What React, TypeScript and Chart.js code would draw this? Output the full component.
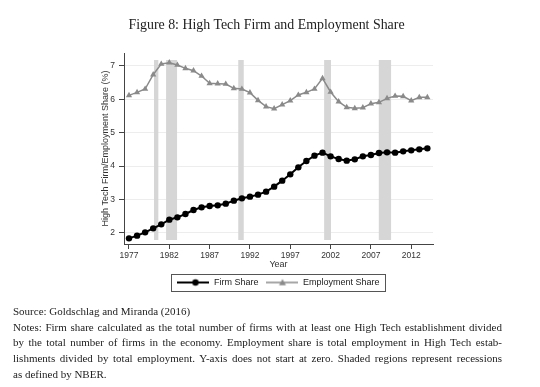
import React, { useEffect, useRef } from "react";
import { Chart, registerables } from "chart.js";

Chart.register(...registerables);

const years = [
  1977, 1978, 1979, 1980, 1981, 1982, 1983, 1984, 1985, 1986, 1987, 1988, 1989,
  1990, 1991, 1992, 1993, 1994, 1995, 1996, 1997, 1998, 1999, 2000, 2001, 2002,
  2003, 2004, 2005, 2006, 2007, 2008, 2009, 2010, 2011, 2012, 2013, 2014,
];
const firmShare = [
  1.83, 1.91, 2.01, 2.13, 2.25, 2.39, 2.46, 2.56, 2.68, 2.76, 2.8, 2.82, 2.87,
  2.96, 3.03, 3.08, 3.14, 3.23, 3.38, 3.56, 3.75, 3.96, 4.15, 4.31, 4.4, 4.29,
  4.21, 4.16, 4.2, 4.29, 4.33, 4.39, 4.41, 4.4, 4.44, 4.47, 4.5, 4.53,
];
const employmentShare = [
  6.12, 6.21, 6.31, 6.74, 7.06, 7.1, 7.03, 6.93, 6.86, 6.7, 6.48, 6.47, 6.46,
  6.33, 6.31, 6.2, 5.97, 5.78, 5.72, 5.84, 5.96, 6.13, 6.21, 6.31, 6.63, 6.22,
  5.93, 5.76, 5.73, 5.75, 5.87, 5.91, 6.03, 6.1, 6.09, 5.96, 6.06, 6.06,
];
const xTickValues = [1977, 1982, 1987, 1992, 1997, 2002, 2007, 2012];
const yTickValues = [2, 3, 4, 5, 6, 7];
const recessionStarts = [1980.1, 1981.6, 1990.55, 2001.2, 2007.98];
const recessionEnds = [1980.64, 1982.96, 1991.23, 2002.05, 2009.5];
const recessionTop = 7.18;
const recessionBottom = 1.78;

const titleText = "Figure 8: High Tech Firm and Employment Share";
const noteLines = [
  "Source: Goldschlag and Miranda (2016)",
  "Notes: Firm share calculated as the total number of firms with at least one High Tech establishment divided",
  "by the total number of firms in the economy. Employment share is total employment in High Tech estab-",
  "lishments divided by total employment. Y-axis does not start at zero. Shaded regions represent recessions",
  "as defined by NBER.",
];
const justifiedLines = [false, true, true, true, false];

function makeIcon(color: string, kind: string, lw: number, r: number) {
  const c = document.createElement("canvas");
  c.width = 32;
  c.height = 10;
  const ctx = c.getContext("2d")!;
  ctx.strokeStyle = color;
  ctx.lineWidth = lw;
  ctx.beginPath();
  ctx.moveTo(0, 5);
  ctx.lineTo(32, 5);
  ctx.stroke();
  ctx.fillStyle = color;
  ctx.beginPath();
  if (kind === "circle") {
    ctx.arc(18, 5, r, 0, Math.PI * 2);
  } else {
    ctx.moveTo(16, 5 - r);
    ctx.lineTo(16 + r, 5 + r * 0.8);
    ctx.lineTo(16 - r, 5 + r * 0.8);
    ctx.closePath();
  }
  ctx.fill();
  return c;
}

const recessionPlugin = {
  id: "recessions",
  beforeDatasetsDraw(chart: any) {
    const { ctx, scales } = chart;
    const x = scales.x;
    const y = scales.y;
    ctx.save();
    ctx.fillStyle = "#d6d6d6";
    for (let i = 0; i < recessionStarts.length; i++) {
      const x0 = x.getPixelForValue(recessionStarts[i]);
      const x1 = x.getPixelForValue(recessionEnds[i]);
      const y0 = y.getPixelForValue(recessionTop);
      const y1 = y.getPixelForValue(recessionBottom);
      ctx.fillRect(x0, y0, x1 - x0, y1 - y0);
    }
    ctx.restore();
  },
};

const legendBoxPlugin = {
  id: "legendBox",
  afterDraw(chart: any) {
    const boxes = chart.legend && chart.legend.legendHitBoxes;
    if (!boxes || !boxes.length) return;
    let l = Infinity, r = -Infinity, t = Infinity, b = -Infinity;
    for (const h of boxes) {
      l = Math.min(l, h.left);
      r = Math.max(r, h.left + h.width);
      t = Math.min(t, h.top);
      b = Math.max(b, h.top + h.height);
    }
    const ctx = chart.ctx;
    ctx.save();
    ctx.strokeStyle = "#555";
    ctx.lineWidth = 1;
    ctx.strokeRect(Math.round(l - 6) + 0.5, Math.round(t - 4) + 0.5, Math.round(r - l + 12), Math.round(b - t + 8));
    ctx.restore();
  },
};

export default function App() {
  const ref = useRef<HTMLCanvasElement>(null);
  useEffect(() => {
    const firmIcon = makeIcon("#000", "circle", 2, 3.2);
    const empIcon = makeIcon("#8a8a8a", "triangle", 1.5, 3.5);
    const chart = new Chart(ref.current!, {
      type: "line",
      data: {
        datasets: [
          {
            label: "Firm Share",
            data: years.map((yr, i) => ({ x: yr, y: firmShare[i] })),
            borderColor: "#000",
            backgroundColor: "#000",
            borderWidth: 2,
            pointStyle: "circle",
            pointRadius: 3.2,
            pointBorderWidth: 0,
          },
          {
            label: "Employment Share",
            data: years.map((yr, i) => ({ x: yr, y: employmentShare[i] })),
            borderColor: "#8a8a8a",
            backgroundColor: "#8a8a8a",
            borderWidth: 1.5,
            pointStyle: "triangle",
            pointRadius: 3.6,
            pointBorderWidth: 0,
          },
        ],
      },
      options: {
        animation: false,
        responsive: false,
        layout: { padding: { left: 96, right: 107, top: 53, bottom: 90 } },
        plugins: {
          tooltip: { enabled: false },
          legend: {
            position: "bottom",
            fullSize: false,
            labels: {
              usePointStyle: true,
              pointStyleWidth: 32,
              padding: 8,
              color: "#222",
              font: { family: "'Liberation Sans', Arial, sans-serif", size: 9 },
              generateLabels: () => [
                { text: "Firm Share", pointStyle: firmIcon, fillStyle: "#000", strokeStyle: "#000", lineWidth: 0, datasetIndex: 0, hidden: false, fontColor: "#222" },
                { text: "Employment Share", pointStyle: empIcon, fillStyle: "#8a8a8a", strokeStyle: "#8a8a8a", lineWidth: 0, datasetIndex: 1, hidden: false, fontColor: "#222" },
              ] as any,
            },
          },
        },
        scales: {
          x: {
            type: "linear",
            min: 1976.38,
            max: 2014.7,
            afterBuildTicks: (s: any) => {
              s.ticks = xTickValues.map((v) => ({ value: v }));
            },
            afterFit: (s: any) => {
              s.height = 26;
            },
            ticks: {
              color: "#333",
              padding: 2,
              maxRotation: 0,
              font: { family: "'Liberation Sans', Arial, sans-serif", size: 8.5 },
              callback: (v: any) => String(v),
            },
            grid: { drawOnChartArea: false, tickLength: 5, tickColor: "#444" },
            border: { color: "#444", width: 1 },
            title: {
              display: true,
              text: "Year",
              color: "#333",
              padding: { top: 0, bottom: 0 },
              font: { family: "'Liberation Sans', Arial, sans-serif", size: 9 },
            },
          },
          y: {
            type: "linear",
            min: 1.66,
            max: 7.39,
            afterBuildTicks: (s: any) => {
              s.ticks = yTickValues.map((v) => ({ value: v }));
            },
            afterFit: (s: any) => {
              s.width = 28;
            },
            ticks: {
              color: "#333",
              padding: 4,
              font: { family: "'Liberation Sans', Arial, sans-serif", size: 8.5 },
              callback: (v: any) => String(v),
            },
            grid: { color: "#ededed", tickLength: 5, tickColor: "#444" },
            border: { color: "#444", width: 1 },
            title: {
              display: true,
              text: "High Tech Firm/Employment Share (%)",
              color: "#333",
              padding: { top: 4.5, bottom: 0 },
              font: { family: "'Liberation Sans', Arial, sans-serif", size: 9 },
            },
          },
        },
      },
      plugins: [recessionPlugin, legendBoxPlugin],
    });
    return () => chart.destroy();
  }, []);

  return (
    <div style={{ position: "absolute", left: 0, top: 0, width: 540, height: 387, background: "#fff", overflow: "hidden" }}>
      <canvas ref={ref} width={540} height={387} style={{ position: "absolute", left: 0, top: 0, width: 540, height: 387 }} />
      <div
        style={{
          position: "absolute",
          left: 0,
          top: 16,
          width: 533,
          textAlign: "center",
          fontFamily: "'Liberation Serif', 'Times New Roman', serif",
          fontSize: 13.9,
          lineHeight: "18px",
          color: "#222",
        }}
      >
        {titleText}
      </div>
      <div
        style={{
          position: "absolute",
          left: 13,
          top: 304,
          width: 489,
          fontFamily: "'Liberation Serif', 'Times New Roman', serif",
          fontSize: 11,
          lineHeight: "15.7px",
          color: "#222",
        }}
      >
        {noteLines.map((t, i) => (
          <div
            key={i}
            style={{
              textAlign: justifiedLines[i] ? "justify" : "left",
              textAlignLast: justifiedLines[i] ? "justify" : "left",
              whiteSpace: "normal",
            }}
          >
            {t}
          </div>
        ))}
      </div>
    </div>
  );
}
